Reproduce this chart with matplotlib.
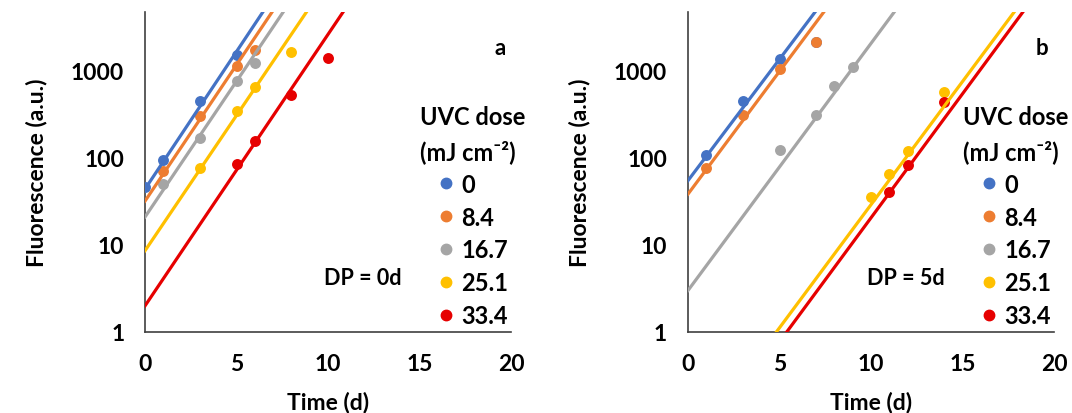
import numpy as np
import matplotlib.pyplot as plt
from matplotlib.lines import Line2D

plt.rcParams['font.family'] = ['Lato', 'DejaVu Sans']
plt.rcParams['font.weight'] = 'bold'
plt.rcParams['axes.labelweight'] = 'bold'

doses = ['0', '8.4', '16.7', '25.1', '33.4']
colors = ['#4472C4', '#ED7D31', '#A5A5A5', '#FFC000', '#E60000']

# panel a, DP = 0d : measured points (time in d, fluorescence a.u.)
a_t = [[0, 1, 3, 5],
       [1, 3, 5, 6],
       [1, 3, 5, 6],
       [3, 5, 6, 8],
       [5, 6, 8, 10]]
a_y = [[47, 95, 455, 1540],
       [71, 300, 1150, 1760],
       [50, 170, 760, 1230],
       [77, 345, 660, 1660],
       [85, 158, 535, 1410]]
# exponential trendlines: value at t=0 and log10 growth per day
a_y0 = [44, 32, 21, 8.6, 2.0]
a_k = [0.316, 0.313, 0.312, 0.311, 0.312]

# panel b, DP = 5d
b_t = [[1, 3, 5, 7],
       [1, 3, 5, 7],
       [5, 7, 8, 9],
       [10, 11, 12, 14],
       [11, 12, 14]]
b_y = [[109, 456, 1380, 2170],
       [76, 311, 1050, 2140],
       [124, 311, 677, 1100],
       [36, 66, 121, 570],
       [41, 82, 445]]
b_y0 = [55, 38.5, 3.0, 0.043, 0.029]
b_k = [0.279, 0.282, 0.284, 0.283, 0.285]

panels = [('a', 'DP = 0d', a_t, a_y, a_y0, a_k),
          ('b', 'DP = 5d', b_t, b_y, b_y0, b_k)]

fig = plt.figure(figsize=(10.72, 4.14), dpi=100)
lefts = [0.1353, 0.6418]
t_line = np.array([0, 20])

for left, (tag, dp, ts, ys, y0s, ks) in zip(lefts, panels):
    ax = fig.add_axes([left, 0.1957, 0.3414, 0.773])
    for t, y, y0, k, c in zip(ts, ys, y0s, ks, colors):
        ax.scatter(t, y, s=62, color=c, zorder=3, linewidths=0)
        ax.plot(t_line, y0 * 10 ** (k * t_line), color=c, lw=2.3, zorder=4)
    ax.set_yscale('log')
    ax.set_ylim(1, 4770)
    ax.set_xlim(0, 20)
    ax.set_xticks([0, 5, 10, 15, 20])
    ax.set_yticks([1, 10, 100, 1000])
    ax.set_yticklabels(['1', '10', '100', '1000'])
    ax.minorticks_off()
    ax.tick_params(length=0, labelsize=16.5, pad=15)
    for s in ['top', 'right']:
        ax.spines[s].set_visible(False)
    for s in ['left', 'bottom']:
        ax.spines[s].set_color('#404040')
        ax.spines[s].set_linewidth(1.2)
    ax.set_xlabel('Time (d)', fontsize=16.5, labelpad=12)
    ax.set_ylabel('Fluorescence (a.u.)', fontsize=16.5, labelpad=17)
    ax.text(0.985, 0.89, tag, transform=ax.transAxes, fontsize=16,
            ha='right', va='center')
    ax.text(0.49, 0.17, dp, transform=ax.transAxes, fontsize=15.5,
            ha='left', va='center')
    handles = [Line2D([], [], marker='o', ls='', color=c, markersize=7.5)
               for c in colors]
    leg = ax.legend(handles, doses, title='UVC dose\n(mJ cm\u207b\u00b2)',
                    loc='upper left', bbox_to_anchor=(0.752, 0.71),
                    frameon=False, prop={'size': 17, 'weight': 'bold'},
                    title_fontproperties={'size': 17, 'weight': 'bold'},
                    handletextpad=-0.45, handlelength=2.2, labelspacing=0.42,
                    borderpad=0, borderaxespad=0, alignment='left')
    leg.get_title().set_linespacing(1.55)

fig.savefig('out.png', dpi=100)
